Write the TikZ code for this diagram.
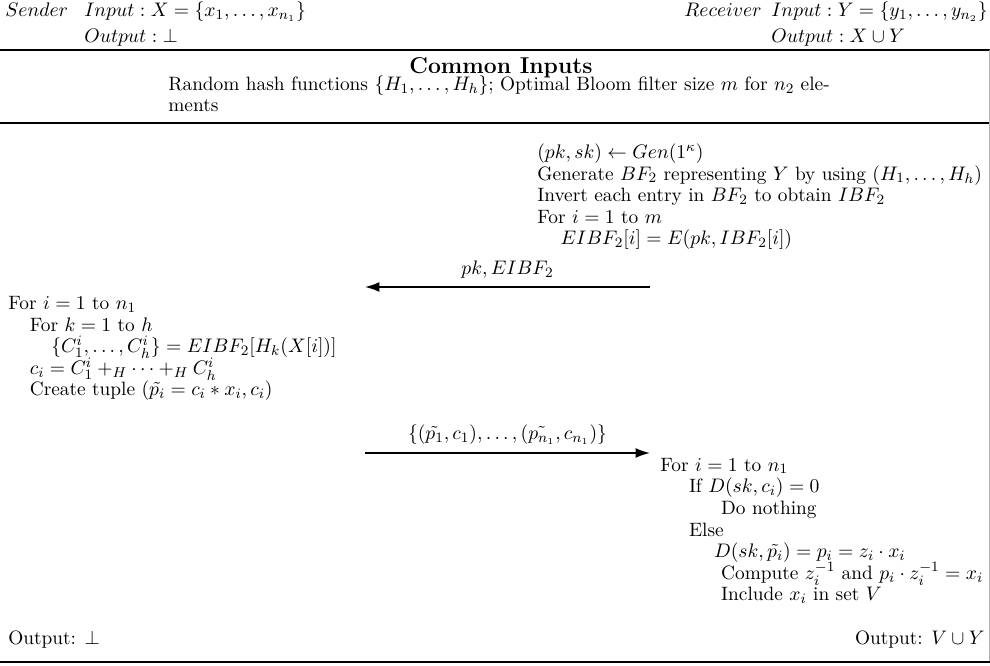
\documentclass[tikz,border=0pt]{standalone}
\usepackage{tikz}
\usetikzlibrary{arrows.meta}
\usetikzlibrary{positioning}
\usepackage{amsmath}
\usepackage{amssymb}
\newcommand{\tightlines}{\lineskiplimit=-100pt\relax}

\begin{document}
\begin{tikzpicture}[
    x=0.5587pt, y=-0.5587pt,
    every node/.style={font=\fontsize{10.8}{12.1}\selectfont\tightlines},
    steps/.style={align=left, anchor=base west, inner sep=0pt},
    rule/.style={line width=1.2pt},
    msg/.style={line width=0.9pt, -{Latex[length=8pt, width=5.5pt]}},
    >=stealth
]
\useasboundingbox (0,0) rectangle (990,666);

% --- Parties (base = last line) ---
\node[steps] (snd) at (5,17) {$Sender$};
\node[steps] (sndio) at (84,43) {$Input: X = \{x_1,\ldots,x_{n_1}\}$\\[2.5pt]$Output : {\perp}$};
\node[steps] (rcvio) at (771,43) {$Input: Y = \{y_1,\ldots,y_{n_2}\}$\\[2.5pt]$Output : X \cup Y$};
\node[steps, anchor=base east] (rcv) at (762,17) {$Receiver$};

% --- Common inputs ---
\draw[rule] (0,50) coordinate (t0) -- (990,50) coordinate (t1);
\node[inner sep=0pt, anchor=base, font=\fontsize{12.8}{15}\selectfont\bfseries] (common) at (501,74) {Common Inputs};
\node[steps] (hash) at (168,112) {Random hash functions $\{H_1,\ldots,H_h\}$; Optimal Bloom filter size $m$ for $n_2$ ele-\\ments};
\draw[rule] (0,123) coordinate (m0) -- (990,123) coordinate (m1);
\draw[gray!60, line width=0.4pt] (989,50) coordinate (r0) -- (989,662) coordinate (r1);

% --- Receiver: encrypted inverted filter ---
\node[steps] (rstep1) at (537,245) {$(pk,sk)\leftarrow Gen(1^\kappa)$\\
Generate $BF_2$ representing $Y$ by using $(H_1,\ldots,H_h)$\\
Invert each entry in $BF_2$ to obtain $IBF_2$\\
For $i=1$ to $m$\\
\hspace*{13pt}$EIBF_2[i]=E(pk,IBF_2[i])$};

% --- Message 1 ---
\coordinate (msg1s) at (650,287);
\coordinate (msg1e) at (365,287);
\draw[msg] (msg1s) -- node[above=1pt] (msg1) {$pk, EIBF_2$} (msg1e);

% --- Sender: tuples ---
\node[steps] (sstep) at (8,396) {For $i=1$ to $n_1$\\
\hspace*{12pt}For $k=1$ to $h$\\
\hspace*{24pt}$\{C^i_1,\ldots,C^i_h\}=EIBF_2[H_k(X[i])]$\\
\hspace*{12pt}$c_i=C^i_1+_H\cdots+_H C^i_h$\\
\hspace*{12pt}Create tuple $(\tilde{p_i}=c_i*x_i,c_i)$};

% --- Message 2 ---
\coordinate (msg2s) at (365,453);
\coordinate (msg2e) at (650,453);
\draw[msg] (msg2s) -- node[above=1pt] (msg2) {$\{(\tilde{p_1},c_1),\ldots,(\tilde{p_{n_1}},c_{n_1})\}$} (msg2e);

% --- Receiver: decryption ---
\node[steps] (rstep2) at (660,601) {For $i=1$ to $n_1$\\
\hspace*{16pt}If $D(sk,c_i)=0$\\
\hspace*{34pt}Do nothing\\
\hspace*{16pt}Else\\
\hspace*{30pt}$D(sk,\tilde{p_i})=p_i=z_i\cdot x_i$\\
\hspace*{34pt}Compute $z_i^{-1}$ and $p_i\cdot z_i^{-1}=x_i$\\
\hspace*{34pt}Include $x_i$ in set $V$};

% --- Outputs ---
\node[steps] (sout) at (8,645) {Output: $\perp$};
\node[steps, anchor=base east] (rout) at (985,645) {Output: $V\cup Y$};
\draw[rule] (0,662) coordinate (b0) -- (990,662) coordinate (b1);

\end{tikzpicture}
\end{document}
